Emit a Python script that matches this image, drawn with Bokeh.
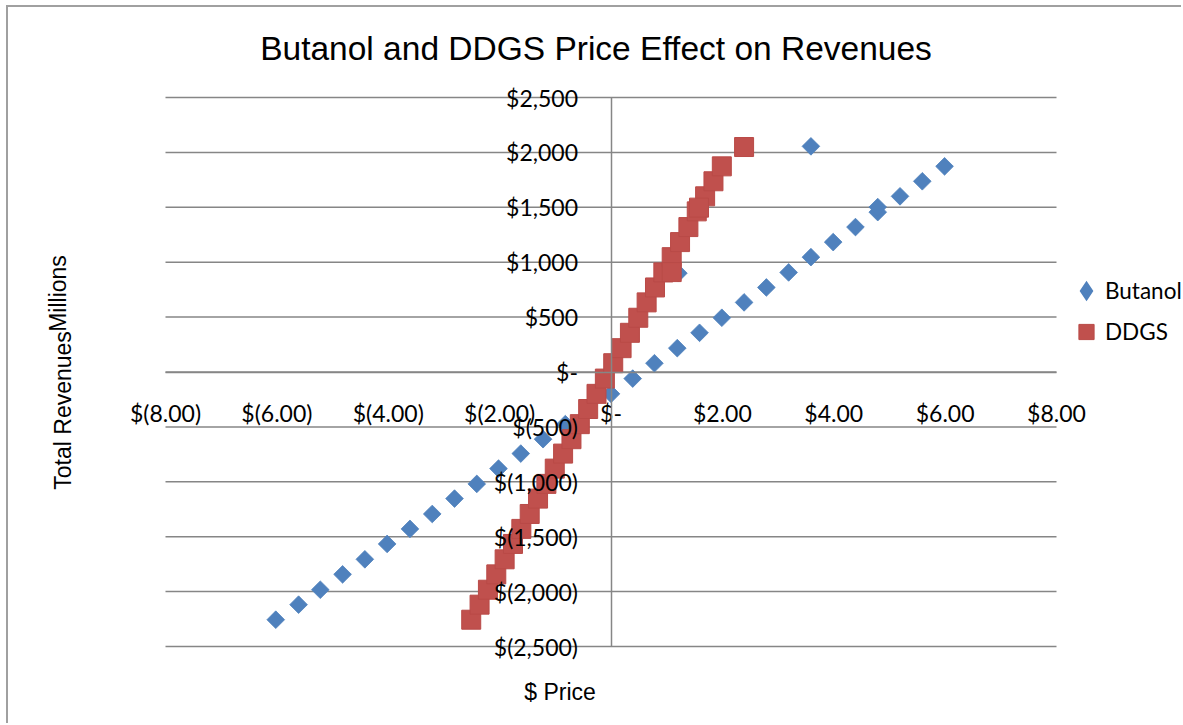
import numpy as np
from bokeh.plotting import figure
from bokeh.models import Range1d, FixedTicker, Label, Legend, LegendItem
from bokeh.embed import file_html
from bokeh.resources import INLINE

title_text = "Butanol and DDGS Price Effect on Revenues"
x_title = "$ Price"
y_title_main = "Total Revenues"
y_title_unit = "Millions"

x_ticks = [-8, -6, -4, -2, 0, 2, 4, 6, 8]
x_tick_labels = ["$(8.00)", "$(6.00)", "$(4.00)", "$(2.00)", "$-",
                 "$2.00", "$4.00", "$6.00", "$8.00"]
y_ticks = [-2500, -2000, -1500, -1000, -500, 0, 500, 1000, 1500, 2000, 2500]
y_tick_labels = ["$(2,500)", "$(2,000)", "$(1,500)", "$(1,000)", "$(500)", "$-",
                 "$500", "$1,000", "$1,500", "$2,000", "$2,500"]

series_names = ["Butanol", "DDGS"]

butanol_price = [-6.02, -5.61, -5.22, -4.82, -4.42, -4.02, -3.61, -3.21, -2.81, -2.41,
                 -2.02, -1.62, -1.22, -0.82, -0.41, 0.00, 0.39, 0.78, 1.19, 1.59,
                 1.99, 2.39, 2.79, 3.19, 3.59, 3.99, 4.39, 4.79, 5.19, 5.59,
                 5.99, 4.79, 3.59, 1.21]
butanol_revenue = [-2256, -2119, -1983, -1843, -1706, -1566, -1429, -1293, -1153, -1019,
                   -880, -743, -612, -475, -337, -199, -60, 80, 217, 357,
                   494, 634, 770, 907, 1046, 1183, 1320, 1456, 1600, 1737,
                   1873, 1502, 2055, 900]

ddgs_price = [-2.51, -2.36, -2.21, -2.06, -1.91, -1.76, -1.61, -1.46, -1.31, -1.16,
              -1.01, -0.86, -0.71, -0.56, -0.41, -0.26, -0.11, 0.04, 0.19, 0.34,
              0.49, 0.64, 0.79, 0.94, 1.09, 1.24, 1.39, 1.54, 1.69, 1.84,
              1.99, 1.58, 2.39, 1.09]
ddgs_revenue = [-2256, -2119, -1983, -1843, -1706, -1566, -1429, -1293, -1153, -1019,
                -880, -743, -612, -475, -337, -199, -60, 80, 217, 357,
                494, 634, 770, 907, 1046, 1183, 1320, 1463, 1600, 1737,
                1873, 1497, 2049, 910]

BLUE = "#4F81BD"
RED = "#C0504D"
GRID = "#868686"
TICK_FONT = "Lato"

# ---- layout (page pixels) ----
FIG_X, FIG_Y = 8, 7            # figure origin on the page
FIG_W, FIG_H = 1175, 718
TOP_PANEL = 63                 # title strip above the drawing frame
AREA_L, AREA_R = 165, 1056     # plot area edges (page px) for x = -8 .. 8
AREA_T, AREA_B = 97, 646       # plot area edges (page px) for y = 2500 .. -2500

x_lo, x_hi = x_ticks[0], x_ticks[-1]
y_lo, y_hi = y_ticks[0], y_ticks[-1]
ppx = (AREA_R - AREA_L) / (x_hi - x_lo)
ppy = (AREA_B - AREA_T) / (y_hi - y_lo)
frame_l, frame_r = FIG_X, FIG_X + FIG_W
frame_t, frame_b = FIG_Y + TOP_PANEL, FIG_Y + FIG_H
x_range = Range1d(x_lo - (AREA_L - frame_l) / ppx, x_hi + (frame_r - AREA_R) / ppx)
y_range = Range1d(y_lo - (frame_b - AREA_B) / ppy, y_hi + (AREA_T - frame_t) / ppy)

p = figure(width=FIG_W, height=FIG_H, output_backend="svg", toolbar_location=None,
           x_range=x_range, y_range=y_range,
           min_border_left=0, min_border_right=0,
           min_border_top=TOP_PANEL, min_border_bottom=0)
p.styles = {"margin-left": f"{FIG_X}px", "margin-top": f"{FIG_Y}px",
            "box-shadow": "-2px -2px 0px 0px #a0a0a0"}
p.outline_line_color = None
p.background_fill_color = "white"
p.border_fill_color = "white"

p.title.text = title_text
p.title.align = "center"
p.title.text_font = "Liberation Sans"
p.title.text_font_size = "33.5px"
p.title.text_font_style = "normal"
p.title.text_color = "black"
p.title.standoff = 8

p.xgrid.visible = False
p.ygrid.visible = False
# horizontal gridlines across the plot area only
p.segment(x0=[x_lo] * len(y_ticks), x1=[x_hi] * len(y_ticks), y0=y_ticks, y1=y_ticks,
          line_color=GRID, line_width=1.5)

for ax in (p.xaxis[0], p.yaxis[0]):
    ax.fixed_location = 0
    ax.axis_line_color = GRID
    ax.axis_line_width = 1.5
    ax.major_tick_in = 0
    ax.major_tick_out = 0
    ax.minor_tick_in = 0
    ax.minor_tick_out = 0
    ax.major_label_text_font = TICK_FONT
    ax.major_label_text_font_size = "23px"
    ax.major_label_text_color = "black"

p.xaxis.ticker = FixedTicker(ticks=x_ticks)
p.xaxis.bounds = (x_lo, x_hi)
p.xaxis.major_label_overrides = dict(zip(x_ticks, x_tick_labels))
p.xaxis.major_label_standoff = 27
p.yaxis.ticker = FixedTicker(ticks=y_ticks)
p.yaxis.bounds = (y_lo, y_hi)
p.yaxis.major_label_overrides = dict(zip(y_ticks, y_tick_labels))
p.yaxis.major_label_standoff = 33

r_but = p.scatter(butanol_price, butanol_revenue, marker="square", angle=np.pi / 4,
                  size=12.5, fill_color=BLUE, line_color=BLUE, line_width=0.8)
# legend key for Butanol: a diamond (rotated markers are drawn upright in legends);
# it sits, tiny, inside the first Butanol marker so it stays unseen in the plot
r_but_key = p.scatter(butanol_price[:1], butanol_revenue[:1], marker="diamond", size=4,
                      fill_color=BLUE, line_color=BLUE, line_width=3, line_join="miter")
r_ddgs = p.scatter(ddgs_price, ddgs_revenue, marker="square",
                   size=19, fill_color=RED, line_color="#B94A47", line_width=1)

legend = Legend(items=[LegendItem(label=series_names[0], renderers=[r_but_key]),
                       LegendItem(label=series_names[1], renderers=[r_ddgs])],
                location=(1067 - frame_l, frame_b - 351.5), orientation="vertical")
legend.glyph_width = 38
legend.glyph_height = 41
legend.label_standoff = 0
legend.spacing = 0
legend.padding = 0
legend.margin = 0
legend.border_line_color = None
legend.background_fill_alpha = 0
legend.label_text_font = TICK_FONT
legend.label_text_font_size = "22.5px"
legend.label_text_color = "black"
p.add_layout(legend, "center")

p.add_layout(Label(x=x_lo, y=-350, x_offset=-103, text=y_title_main, angle=np.pi / 2,
                   text_align="center", text_baseline="middle",
                   text_font="Liberation Sans", text_font_size="23px", text_color="black"))
p.add_layout(Label(x=x_lo, y=715, x_offset=-108, text=y_title_unit, angle=np.pi / 2,
                   text_align="center", text_baseline="middle",
                   text_font="Liberation Sans", text_font_size="23px", text_color="black"))
p.add_layout(Label(x=x_lo, y=-2910, x_offset=394.5, text=x_title,
                   text_align="center", text_baseline="middle",
                   text_font="Liberation Sans", text_font_size="23px", text_color="black"))

open("out.html", "w").write(file_html(p, INLINE))
